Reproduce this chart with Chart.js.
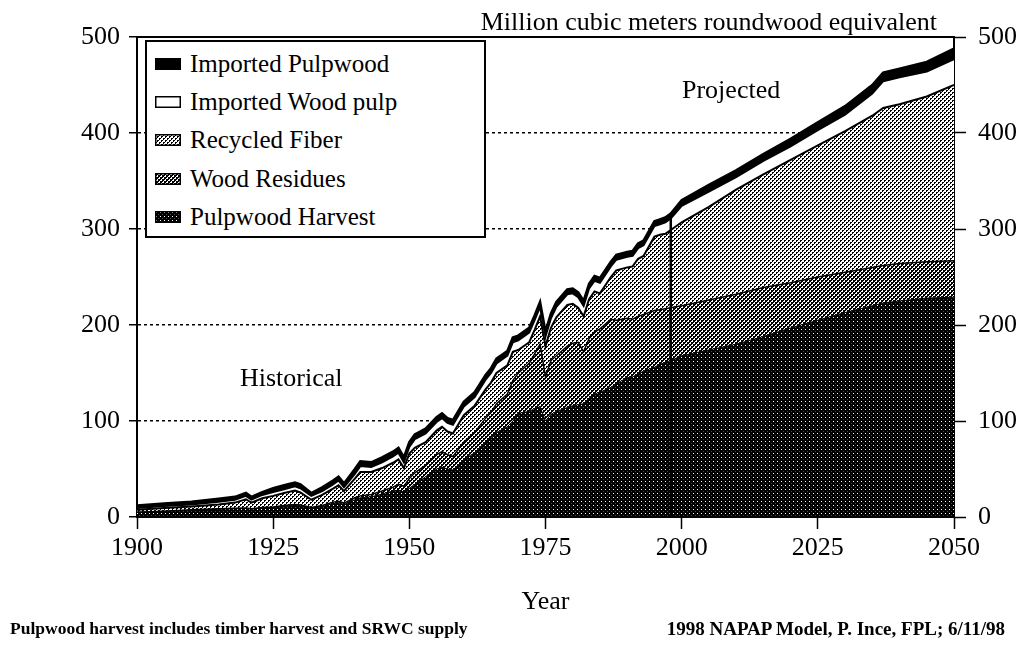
<!DOCTYPE html>
<html>
<head>
<meta charset="utf-8">
<script src="https://cdn.jsdelivr.net/npm/chart.js@4.4.1/dist/chart.umd.min.js"></script>
<style>
html,body{margin:0;padding:0;background:#fff;}
#wrap{position:relative;width:1027px;height:649px;overflow:hidden;font-family:"Liberation Serif","Times New Roman",serif;color:#000;background:#fff;}
#c{position:absolute;left:0;top:0;}
.t{position:absolute;white-space:nowrap;line-height:1;}
#legend{position:absolute;left:145px;top:40px;width:337px;height:194px;border:2px solid #000;background:#fff;}
#legend .sw{position:absolute;left:8px;width:26px;height:12px;}
#legend .lt{position:absolute;left:43px;font-size:25px;line-height:1;white-space:nowrap;}
</style>
</head>
<body>
<div id="wrap">
  <canvas id="c" width="1027" height="649"></canvas>
  <div id="legend"></div>
  <div class="t" style="right:90px;top:9px;font-size:26px;">Million cubic meters roundwood equivalent</div>
  <div class="t" style="left:682px;top:77px;font-size:26px;">Projected</div>
  <div class="t" style="left:240px;top:365px;font-size:26px;">Historical</div>
  <div class="t" style="left:10px;top:620px;font-size:17.5px;font-weight:bold;">Pulpwood harvest includes timber harvest and SRWC supply</div>
  <div class="t" style="right:22px;top:619px;font-size:19px;font-weight:bold;">1998 NAPAP Model, P. Ince, FPL; 6/11/98</div>
</div>
<script>
// ---------- data (million cubic meters roundwood equivalent) ----------
const years = [1900,1905,1910,1915,1918,1920,1921,1923,1925,1927,1929,1930,1932,1934,1936,1937,1938,1940,1941,1943,1945,1947,1948,1949,1950,1951,1953,1955,1956,1957,1958,1960,1962,1964,1965,1966,1968,1969,1970,1972,1973,1974,1975,1976,1977,1979,1980,1981,1982,1983,1984,1985,1987,1988,1990,1991,1992,1993,1995,1996,1997,1998,2000,2005,2010,2015,2020,2025,2030,2035,2037,2040,2045,2050];
const pulpwoodHarvest = [5,6,7,8,8.5,9,8,9.5,10,11,12,11.5,9,11,14,15,13,18,20,21,24,27,28,26,30,34,42,50,52,50,49,60,67,78,82,88,94,100,108,110,113,115,100,107,110,114,116,117,118,124,128,130,135,139,145,146,149,152,156,159,161,163,168,174,180,188,197,205,213,220,223,225,228,229];
const woodResidues = [0,0,0.5,0.5,0.5,0.5,0.5,0.5,0.5,1,1,1,1,1,1.5,1.5,1.5,2,2,2.5,3,4,6,6,10,12,12,15,16,15,14,18,21,25,27,30,34,42,42,50,57,65,46,56,58,64,65,65,54,62,65,66,71,66,62,60,60,59,59,57,56,55,52,52,52,51,47,45,42,40,39,39,38,38];
const recycledFiber = [2.5,3.5,3.5,4.5,6,9,6.5,9.5,11.5,13,14.5,13,8,11,14,16.5,12.5,20,25,23.5,24,25.5,26,19,26,26,24,25,26,24,24,28,28,30,31,32,30,30,24,22,25,29,32,34,40,43,41,36,37,41,42,37,44,52,53,55,60,61,77,78,78,81,87,97,109,118,128,137,147,158,164,166,172,183];
const importedWoodPulp = [2,2,2,3,3,3.5,3,3.5,4,4,4.5,4.5,4,4,4.5,5,4,5,6,5,6,6.5,7,6,7,9,9,9,9,9,9,9,9,10,10,10,10,10,10,10,10,10,10,10,11,11,11,11,11,11,11,11,11,11,11,11,11,11,11,11,12,12,17,16,13,14,14,16,17,23,28,28,26,27];
const importedPulpwood = [2.5,2.5,3,3,3,3,3,3,4,4,4,4,3,4,4,4,4,5,5,5,5,5,5,5,5,5,5,5,5,5,5,5,5,5,5,5,5,5,5,5,5,5,5,5,5,5,5,5,5,5,5,5,5,5,5,5,5,5,5,5,5,5,6,7,7,7,8,8,9,9,9,9,10,11];
const seriesNames = ['Pulpwood Harvest','Wood Residues','Recycled Fiber','Imported Wood pulp','Imported Pulpwood'];
const xTickValues = [1900,1925,1950,1975,2000,2025,2050];
const yTickValues = [0,100,200,300,400,500];
const projectionStartYear = 1998;

// ---------- styles ----------
const FONT = '"Liberation Serif","Times New Roman",serif';
function makeTile(kind){
  const c = document.createElement('canvas'); c.width = 4; c.height = 4;
  const g = c.getContext('2d'); const img = g.createImageData(4,4);
  for (let y=0;y<4;y++) for (let x=0;x<4;x++){
    let v = 0;
    if (kind==='harvest') v = (x===1&&y===1)?255:((x===3&&y===3)?70:0);
    else if (kind==='residues') v = (((x+y)%4===0) || ((x+y)%4===1 && x%2===0)) ? 255 : 0;
    else if (kind==='recycled') {
      const blk = (x<2&&y<2&&!(x===1&&y===1)) || (x>=2&&y>=2&&!(x===3&&y===3));
      v = blk ? 0 : 255;
    }
    else if (kind==='white') v = 255;
    else v = 0;
    const k=(y*4+x)*4; img.data[k]=v; img.data[k+1]=v; img.data[k+2]=v; img.data[k+3]=255;
  }
  g.putImageData(img,0,0);
  return c;
}
const kinds = ['harvest','residues','recycled','white','black'];
const tiles = kinds.map(makeTile);
const borderWidths = [1,1.5,2,2,2.5];

const canvas = document.getElementById('c');
const ctx = canvas.getContext('2d');
const patterns = tiles.map(t => ctx.createPattern(t,'repeat'));

const seriesValues = [pulpwoodHarvest, woodResidues, recycledFiber, importedWoodPulp, importedPulpwood];
const datasets = seriesValues.map((vals,i)=>({
  label: seriesNames[i],
  data: years.map((yr,j)=>({x:yr, y:vals[j]})),
  backgroundColor: patterns[i],
  borderColor: '#000',
  borderWidth: borderWidths[i],
  fill: i===0 ? 'origin' : '-1',
  pointRadius: 0,
  tension: 0,
  stack: 'supply'
}));
const idx = years.indexOf(projectionStartYear);
const divTop = seriesValues.reduce((s,a)=>s+a[idx],0);
datasets.push({
  label: 'divider',
  data: [{x:projectionStartYear,y:0},{x:projectionStartYear,y:divTop}],
  borderColor: '#000', borderWidth: 2.5, fill: false, pointRadius: 0, stack: 'div', order: -1
});

const tickFont = {family: FONT, size: 26};
new Chart(canvas, {
  type: 'line',
  data: { datasets },
  options: {
    responsive: false, animation: false, devicePixelRatio: 1,
    layout: { padding: { top: 37, left: 0, right: 0, bottom: 30 } },
    plugins: { legend: {display:false}, tooltip: {enabled:false}, title: {display:false} },
    scales: {
      x: {
        type: 'linear', position: 'bottom', min: 1900, max: 2050,
        afterBuildTicks: s => { s.ticks = xTickValues.map(v=>({value:v})); },
        afterFit: s => { s.height = 102; },
        ticks: { font: tickFont, color: '#000', padding: 4, maxRotation: 0, autoSkip: false, callback: v => String(v) },
        grid: { drawOnChartArea: false, drawTicks: true, tickLength: 12, tickWidth: 1.5, tickColor: '#000', color: '#000' },
        border: { display: true, color: '#000', width: 2 },
        title: { display: true, text: 'Year', color: '#000', font: {family: FONT, size: 26}, padding: {top: 0, bottom: 1} }
      },
      xTop: {
        type: 'linear', position: 'top', min: 1900, max: 2050,
        ticks: { display: false }, grid: { display: false },
        border: { display: true, color: '#000', width: 2 },
        afterFit: s => { s.height = 0; }
      },
      y: {
        type: 'linear', position: 'left', stacked: true, min: 0, max: 500,
        afterBuildTicks: s => { s.ticks = yTickValues.map(v=>({value:v})); },
        afterFit: s => { s.width = 137; },
        ticks: { font: tickFont, color: '#000', padding: 9 },
        grid: {
          color: c => (c.tick && (c.tick.value===0 || c.tick.value===500)) ? 'rgba(0,0,0,0)' : '#000',
          lineWidth: 1.5, drawTicks: true, tickLength: 8, tickWidth: 1.5, tickColor: '#000'
        },
        border: { display: true, color: '#000', width: 2, dash: [3,3] }
      },
      y2: {
        type: 'linear', position: 'right', min: 0, max: 500,
        afterBuildTicks: s => { s.ticks = yTickValues.map(v=>({value:v})); },
        afterFit: s => { s.width = 73; },
        ticks: { font: tickFont, color: '#000', padding: 12 },
        grid: { drawOnChartArea: false, drawTicks: true, tickLength: 12, tickWidth: 1.5, tickColor: '#000' },
        border: { display: true, color: '#000', width: 2 }
      }
    }
  }
});

// ---------- legend (top entry = top of stack) ----------
const legend = document.getElementById('legend');
for (let r=0; r<seriesNames.length; r++){
  const i = seriesNames.length-1-r;
  const sw = document.createElement('canvas');
  sw.width = 26; sw.height = 12; sw.className = 'sw';
  sw.style.top = (15.5 + 38.4*r) + 'px';
  const g = sw.getContext('2d');
  g.fillStyle = g.createPattern(tiles[i],'repeat');
  g.fillRect(0,0,26,12);
  g.strokeStyle = '#000'; g.lineWidth = 1.5; g.strokeRect(0.75,0.75,24.5,10.5);
  legend.appendChild(sw);
  const tx = document.createElement('div');
  tx.className = 'lt'; tx.textContent = seriesNames[i];
  tx.style.top = (8.5 + 38.4*r) + 'px';
  legend.appendChild(tx);
}
</script>
</body>
</html>
